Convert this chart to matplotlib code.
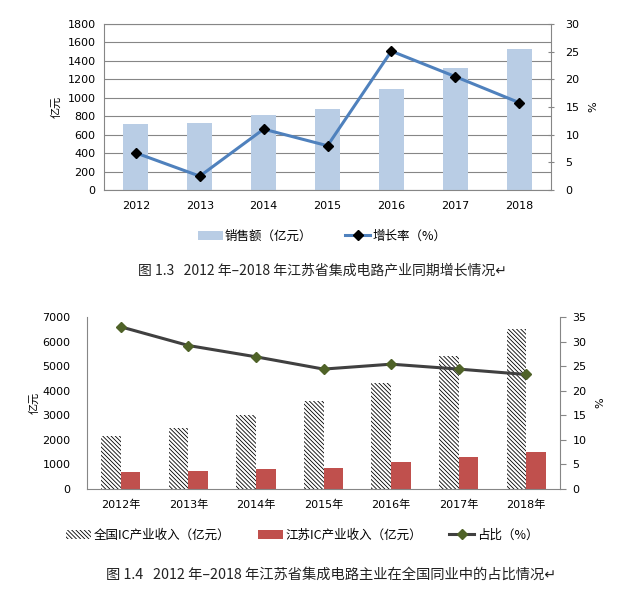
import numpy as np
import matplotlib
matplotlib.use('Agg')
import matplotlib.pyplot as plt

plt.rcParams['font.family'] = ['DejaVu Sans', 'Noto Sans CJK SC']
plt.rcParams['hatch.linewidth'] = 0.6
plt.rcParams['axes.unicode_minus'] = False

# figure 1.3 data
years = ['2012', '2013', '2014', '2015', '2016', '2017', '2018']
sales = [716, 727, 813, 878, 1095, 1323, 1529]
growth = [6.7, 2.5, 11.0, 8.0, 25.1, 20.5, 15.8]

# figure 1.4 data
years_cn = ['2012年', '2013年', '2014年', '2015年', '2016年', '2017年', '2018年']
national = [2158, 2495, 3012, 3581, 4326, 5413, 6512]
jiangsu = [692, 733, 814, 855, 1099, 1315, 1506]
share = [33.0, 29.2, 26.9, 24.4, 25.4, 24.4, 23.3]

W, H = 629, 598
fig = plt.figure(figsize=(W / 100, H / 100), dpi=100)


def px_axes(l, t, r, b):
    return fig.add_axes([l / W, 1 - b / H, (r - l) / W, (b - t) / H])


spine_c = '#868686'
fs = 8
cjk = ['Noto Sans CJK SC', 'DejaVu Sans']

# ---- top chart ----
ax1 = px_axes(104, 24, 551, 190)
x = np.arange(len(years))
b1 = ax1.bar(x, sales, width=0.39, color='#B9CDE5', zorder=2)
ax1.set_ylim(0, 1800)
ax1.set_yticks(range(0, 1801, 200))
ax1.set_xlim(-0.5, len(years) - 0.5)
ax1.set_xticks(x)
ax1.set_xticklabels(years)
ax1.yaxis.grid(True, color='#868686', linewidth=0.8, zorder=0)
ax1.set_axisbelow(True)
ax1.tick_params(axis='y', length=0, labelsize=fs, pad=6)
ax1.tick_params(axis='x', length=0, labelsize=fs, pad=8)
for s in ax1.spines.values():
    s.set_color(spine_c)
    s.set_linewidth(0.8)
ax1.set_ylabel('亿元', fontsize=fs, labelpad=4, family=cjk)

ax1r = ax1.twinx()
l1, = ax1r.plot(x, growth, color='#4F81BD', linewidth=2.2, marker='D', markersize=5,
                markerfacecolor='black', markeredgecolor='black')
ax1r.set_ylim(0, 30)
ax1r.set_yticks(range(0, 31, 5))
ax1r.tick_params(axis='y', direction='inout', length=5, color=spine_c, labelsize=fs, pad=8)
for s in ax1r.spines.values():
    s.set_visible(False)
ax1r.set_ylabel('%', fontsize=fs, labelpad=6)

fig.legend([b1, l1], ['销售额（亿元）', '增长率（%）'], loc='center', bbox_to_anchor=(322 / W, 1 - 236 / H),
           ncol=2, frameon=False, prop={'family': cjk, 'size': 9}, handlelength=2.0,
           columnspacing=2.6, handletextpad=0.2)

fig.text(322 / W, 1 - 270 / H, '图 1.3   2012 年–2018 年江苏省集成电路产业同期增长情况↵',
         ha='center', va='center', fontsize=10, color='#222222', family=cjk)

# ---- bottom chart ----
ax2 = px_axes(87, 317, 560, 489)
x2 = np.arange(len(years_cn))
bw = 0.29
b2 = ax2.bar(x2 - bw / 2, national, width=bw, color='white', edgecolor='black', linewidth=0,
             hatch='\\' * 8, zorder=2)
b3 = ax2.bar(x2 + bw / 2, jiangsu, width=bw, color='#C0504D', zorder=2)
ax2.set_ylim(0, 7000)
ax2.set_yticks(range(0, 7001, 1000))
ax2.set_xlim(-0.5, len(years_cn) - 0.5)
ax2.set_xticks(x2)
ax2.set_xticklabels(years_cn)
ax2.tick_params(axis='y', length=0, labelsize=fs, pad=12)
ax2.tick_params(axis='x', length=0, labelsize=fs, pad=8)
ax2.spines['top'].set_visible(False)
ax2.spines['right'].set_visible(False)
for s in ('left', 'bottom'):
    ax2.spines[s].set_color(spine_c)
    ax2.spines[s].set_linewidth(0.8)
ax2.set_ylabel('亿元', fontsize=fs, labelpad=2, family=cjk)

ax2r = ax2.twinx()
l2, = ax2r.plot(x2, share, color='#404040', linewidth=2.2, marker='D', markersize=5,
                markerfacecolor='#4F6228', markeredgecolor='#4F6228')
ax2r.set_ylim(0, 35)
ax2r.set_yticks(range(0, 36, 5))
ax2r.tick_params(axis='y', direction='out', length=4, color=spine_c, labelsize=fs, pad=5)
ax2r.spines['top'].set_visible(False)
ax2r.spines['left'].set_visible(False)
ax2r.spines['bottom'].set_visible(False)
ax2r.spines['right'].set_color(spine_c)
ax2r.spines['right'].set_linewidth(0.8)
ax2r.set_ylabel('%', fontsize=fs, labelpad=6)

fig.legend([b2, b3, l2], ['全国IC产业收入（亿元）', '江苏IC产业收入（亿元）', '占比（%）'],
           loc='center', bbox_to_anchor=(302 / W, 1 - 535 / H), ncol=3, frameon=False,
           prop={'family': cjk, 'size': 9}, handlelength=2.0, columnspacing=2.2, handletextpad=0.2)

fig.text(331 / W, 1 - 575 / H, '图 1.4   2012 年–2018 年江苏省集成电路主业在全国同业中的占比情况↵',
         ha='center', va='center', fontsize=10.3, color='#222222', family=cjk)

fig.savefig('out.png', dpi=100)
